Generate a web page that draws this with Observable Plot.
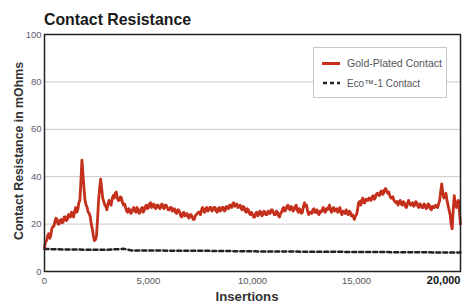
<!DOCTYPE html>
<html><head><meta charset="utf-8">
<script src="https://cdn.jsdelivr.net/npm/d3@7"></script>
<script src="https://cdn.jsdelivr.net/npm/@observablehq/plot@0.6"></script>
<style>
body{margin:0;background:#fff;}
#wrap{position:relative;width:463px;height:304px;}
</style></head>
<body><div id="wrap"></div>
<script>
const title = "Contact Resistance";
const xLabel = "Insertions";
const yLabel = "Contact Resistance in mOhms";
const seriesNames = ["Gold-Plated Contact", "Eco™-1 Contact"];
const xTicks = [0, 5000, 10000, 15000, 20000];
const yTicks = [0, 20, 40, 60, 80, 100];
// Gold-plated: readings every 100 insertions (0..20000) and the readings halfway between them
const goldStep = 100;
const goldValues = [
10,13,16,15,19,21,22,20,22,21,23,22,24,25,23,27,26,30,47,35,
28,25,23,18,13,15,30,39,31,28,26,30,28,32,33,31,30,31,28,27,
25,26,25,27,25,26,25,27,26,28,27,29,28,27,28,27,28,27,28,27,
26,27,26,25,26,25,23,25,24,23,24,23,22,24,25,24,27,25,27,26,
27,26,27,25,27,26,27,26,27,28,27,29,28,27,28,26,27,25,26,24,
24,23,25,24,25,24,25,24,25,26,25,24,25,23,25,27,26,28,26,27,
26,28,25,26,25,29,28,24,25,26,25,26,24,25,27,25,26,28,25,27,
26,25,27,24,25,26,24,25,24,22,24,29,28,31,29,30,31,30,32,31,
33,32,34,33,35,33,32,31,30,29,28,30,28,29,27,30,28,29,28,29,
27,28,27,28,27,28,26,27,28,27,30,37,31,33,28,24,18,32,27,30,20];
const goldMid = [
12.5,15,14,18,19,22.5,20,21.5,20.5,23,21.5,24,23,24.5,25.5,25,29,38,41,30,
27,24.5,20,15,13.5,22,35,35,29.5,27.5,28.5,29,30.5,31,33.5,30,31.5,29,28.5,25.5,
26.5,24.5,26.5,25.5,27,24.5,26.5,25,27.5,26.5,28.5,27,28.5,26.5,28,26.5,28.5,26.5,28,26,
27,25.5,26.5,24.5,26,23.5,24.5,23.5,24.5,22.5,24,22,23.5,24.5,25,26,25.5,26.5,25.5,27,
25.5,27,25.5,26.5,25.5,27,25.5,27.5,26.5,28,28.5,27.5,28.5,27.5,26.5,27.5,25.5,26.5,24.5,25,
23,24.5,23.5,25.5,23.5,25.5,24,25.5,24.5,26,24,25.5,23.5,24.5,26.5,25.5,27.5,26.5,27.5,25.5,
27.5,26,26.5,24.5,27.5,27.5,25.5,25,24.5,26.5,25,24.5,25.5,26,25.5,26.5,27,26,26.5,25.5,
26.5,25.5,25,25.5,24.5,24.5,25.5,23.5,23,23.5,26,29.5,30,29,30.5,30,30.5,31.5,30.5,32.5,
32.5,33.5,32.5,34.5,34,33.5,31,31.5,29.5,29.5,29.5,28.5,29.5,27.5,28.5,29,28.5,27.5,29.5,27.5,
28.5,27,28.5,26.5,28.5,26.5,27.5,27,27.5,28.5,34,33,32,30,26,20,26,29,29,25];
const ecoX = [0, 1000, 2000, 3000, 3500, 3800, 4200, 6000, 8000, 10000, 12000, 14000, 16000, 18000, 20000];
const ecoValues = [9.5, 9.3, 9.2, 9.2, 9.4, 9.6, 8.9, 8.8, 8.7, 8.5, 8.4, 8.3, 8.2, 8.1, 8.0];

const gold = [];
goldValues.forEach((v, i) => {
  gold.push({x: i * goldStep, y: v});
  if (i < goldMid.length) gold.push({x: i * goldStep + goldStep / 2, y: goldMid[i]});
});
const eco = ecoX.map((x, i) => ({x, y: ecoValues[i]}));

const FONT = '"Liberation Sans", Arial, sans-serif';
const RED = "#c4301c";
const fmt = d3.format(",");
const chart = Plot.plot({
  width: 463, height: 304,
  marginLeft: 44, marginRight: 3, marginTop: 34, marginBottom: 33,
  style: {fontFamily: FONT, background: "#fff"},
  x: {domain: [0, 20000], label: null},
  y: {domain: [0, 100], label: null},
  marks: [
    Plot.gridY(yTicks.filter(t => t > 0 && t < 100), {stroke: "#c8c8c8", strokeOpacity: 1, strokeWidth: 1}),
    Plot.line(eco, {x: "x", y: "y", stroke: "#222", strokeWidth: 2.5, strokeDasharray: "4,3"}),
    Plot.line(gold, {x: "x", y: "y", stroke: RED, strokeWidth: 2.8, strokeLinejoin: "round"}),
    Plot.frame({stroke: "#222", strokeWidth: 1.5}),
    Plot.axisY(yTicks, {tickSize: 0, tickPadding: 3, fontSize: 9.5, fill: "#5c5c70", tickFormat: d => d}),
    Plot.axisX(xTicks.slice(0, -1), {tickSize: 0, tickPadding: 6, fontSize: 9.5, fill: "#555", tickFormat: fmt, label: null}),
    Plot.axisX(xTicks.slice(-1), {tickSize: 0, tickPadding: 5, fontSize: 11, fontWeight: "bold", fill: "#111", tickFormat: fmt, textAnchor: "end", label: null})
  ]
});
const svg = d3.select(chart);
function txt(x, y, s, size, opts = {}) {
  const t = svg.append("text").attr("x", x).attr("y", y).attr("font-size", size)
    .attr("font-family", FONT).attr("text-anchor", opts.anchor || "start")
    .attr("fill", opts.fill || "#333").text(s);
  if (opts.bold) t.attr("font-weight", "bold");
  if (opts.len) t.attr("textLength", opts.len).attr("lengthAdjust", "spacingAndGlyphs");
  if (opts.transform) t.attr("transform", opts.transform);
  return t;
}
txt(44, 25, title, 16.5, {bold: true, fill: "#1a1a1a", len: 147});
txt(247, 301, xLabel, 13, {bold: true, anchor: "middle", len: 63});
txt(0, 0, yLabel, 12, {bold: true, anchor: "middle", len: 178, transform: "translate(23,151) rotate(-90)"});
// legend
svg.append("rect").attr("x", 313.5).attr("y", 47.5).attr("width", 133).attr("height", 50)
  .attr("fill", "#fff").attr("stroke", "#c8c8c8");
svg.append("line").attr("x1", 322).attr("x2", 340).attr("y1", 63.5).attr("y2", 63.5)
  .attr("stroke", RED).attr("stroke-width", 3);
svg.append("line").attr("x1", 323).attr("x2", 340).attr("y1", 83).attr("y2", 83)
  .attr("stroke", "#222").attr("stroke-width", 2.5).attr("stroke-dasharray", "4,3");
txt(347, 67, seriesNames[0], 10.5, {fill: "#555", len: 95});
txt(347, 87, seriesNames[1], 10.5, {fill: "#555", len: 73});
document.getElementById("wrap").append(chart);
</script></body></html>
